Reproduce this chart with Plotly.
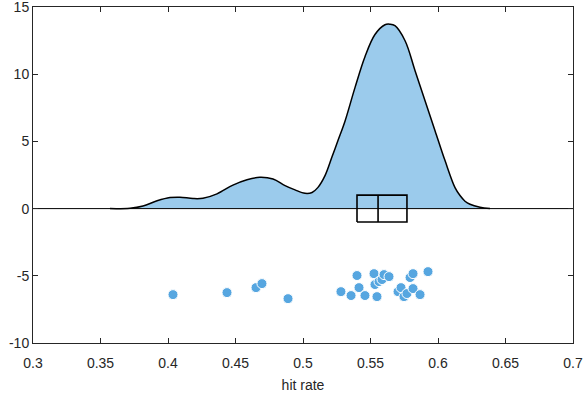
import plotly.graph_objects as go

# Density curve
dens_x = [0.3570, 0.3719, 0.3815, 0.3919, 0.4015, 0.4089, 0.4185, 0.4259, 0.4363, 0.4481,
          0.4585, 0.4681, 0.4778, 0.4867, 0.4941, 0.5015, 0.5067, 0.5111, 0.5163, 0.5215,
          0.5259, 0.5311, 0.5385, 0.5459, 0.5533, 0.5607, 0.5644, 0.5681, 0.5756, 0.5830,
          0.5904, 0.5978, 0.6052, 0.6126, 0.6163, 0.6200, 0.6237, 0.6311, 0.6385]
dens_y = [0.0, 0.03, 0.20, 0.58, 0.82, 0.85, 0.75, 0.77, 1.10, 1.75,
          2.15, 2.33, 2.20, 1.71, 1.39, 1.14, 1.20, 1.58, 2.45, 3.85,
          5.06, 6.50, 9.00, 11.30, 12.95, 13.68, 13.72, 13.61, 12.49, 10.26,
          8.03, 5.80, 3.57, 1.56, 0.97, 0.55, 0.32, 0.10, 0.0]

# Raw data points (hit rate, jittered y)
pts_x = [0.4037, 0.4437, 0.4652, 0.4696, 0.4889, 0.5281, 0.5356, 0.5400, 0.5415, 0.5459,
         0.5526, 0.5533, 0.5548, 0.5563, 0.5585, 0.5600, 0.5637, 0.5704, 0.5726, 0.5748,
         0.5770, 0.5793, 0.5815, 0.5815, 0.5867, 0.5926]
pts_y = [-6.40, -6.25, -5.88, -5.58, -6.70, -6.18, -6.47, -4.98, -5.88, -6.47,
         -4.84, -5.65, -6.55, -5.43, -5.28, -4.91, -5.06, -6.18, -5.88, -6.55,
         -6.32, -5.13, -4.84, -5.95, -6.40, -4.69]

# Box summary: first quartile, median, third quartile; box half-height
box_q1, box_med, box_q3 = 0.540, 0.5556, 0.577
box_half = 1.0

x_ticks = [0.3, 0.35, 0.4, 0.45, 0.5, 0.55, 0.6, 0.65, 0.7]
x_ticklabels = ["0.3", "0.35", "0.4", "0.45", "0.5", "0.55", "0.6", "0.65", "0.7"]
y_ticks = [-10, -5, 0, 5, 10, 15]
y_ticklabels = ["-10", "-5", "0", "5", "10", "15"]

fill_color = "#9BCBEC"
pt_color = "#56A6E0"
axis_color = "#262626"
font_family = "Liberation Sans, Arial, sans-serif"

fig = go.Figure()

fig.add_trace(go.Scatter(x=dens_x, y=dens_y, mode="lines", fill="tozeroy",
                         fillcolor=fill_color,
                         line=dict(color="black", width=1.5, shape="spline", smoothing=1.0),
                         hoverinfo="skip", showlegend=False))

# zero baseline across the full axis
fig.add_trace(go.Scatter(x=[x_ticks[0], x_ticks[-1]], y=[0, 0], mode="lines",
                         line=dict(color="black", width=1), showlegend=False, hoverinfo="skip"))

# box
fig.add_trace(go.Scatter(x=[box_q1, box_q3, box_q3, box_q1, box_q1],
                         y=[-box_half, -box_half, box_half, box_half, -box_half],
                         mode="lines", line=dict(color="black", width=1.6), showlegend=False))
fig.add_trace(go.Scatter(x=[box_med, box_med], y=[-box_half, box_half], mode="lines",
                         line=dict(color="black", width=1.6), showlegend=False))

fig.add_trace(go.Scatter(x=pts_x, y=pts_y, mode="markers",
                         marker=dict(color=pt_color, size=10, line=dict(color="white", width=1)),
                         showlegend=False))

axis_common = dict(showgrid=False, zeroline=False, showline=True, linecolor=axis_color,
                   linewidth=1, mirror="ticks", ticks="inside", ticklen=5, tickcolor=axis_color,
                   automargin=False, ticklabeloverflow="allow",
                   tickfont=dict(family=font_family, size=14, color=axis_color))

fig.update_xaxes(range=[0.3, 0.7], tickvals=x_ticks, ticktext=x_ticklabels,
                 ticklabelstandoff=7,
                 title=dict(text="hit rate", font=dict(family=font_family, size=14, color=axis_color),
                            standoff=10),
                 **axis_common)
fig.update_yaxes(range=[-10, 15], tickvals=y_ticks, ticktext=y_ticklabels, **axis_common)

fig.update_layout(width=586, height=393, margin=dict(l=33, r=13, t=7, b=50),
                  plot_bgcolor="white", paper_bgcolor="white")

fig.write_html("out.html", config={"displayModeBar": False},
               post_script="document.body.style.margin='0';document.body.style.overflow='hidden';")
